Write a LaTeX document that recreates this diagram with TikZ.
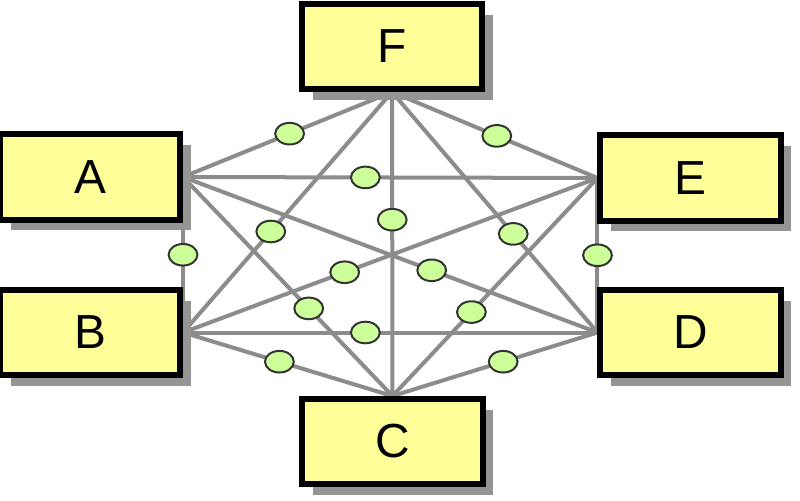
\documentclass[tikz,border=0pt]{standalone}
\usepackage{fontspec}
\setmainfont{Liberation Sans}
\usetikzlibrary{shapes.geometric,shadows}
\pgfdeclarelayer{background}
\pgfsetlayers{background,main}
\definecolor{boxfill}{RGB}{255,255,153}
\definecolor{dotfill}{RGB}{204,255,153}
\definecolor{linkgray}{RGB}{140,140,140}
\tikzset{%
  every box/.style={
    rectangle,
    draw=black,
    line width=0.15cm,
    fill=boxfill,
    minimum width=4.5cm,
    minimum height=2.125cm,
    font=\fontsize{34}{40}\selectfont,
    drop shadow={shadow xshift=0.27cm, shadow yshift=-0.27cm, opacity=1, fill=black!42}
  },
  link/.style={
    draw=linkgray,
    line width=0.1cm
  },
  link dot/.style={
    ellipse,
    draw=black!80,
    line width=0.05cm,
    fill=dotfill,
    minimum width=0.72cm,
    minimum height=0.54cm,
    inner sep=0pt
  },
}

\begin{document}
\begin{tikzpicture}[x=0.025cm, y=-0.025cm]
\useasboundingbox (0,0) rectangle (800,500);
% the six stations
\node[every box] (F) at (392,46.5) {F};
\node[every box] (A) at (90,177) {A};
\node[every box] (B) at (90,332.5) {B};
\node[every box] (E) at (690.5,178) {E};
\node[every box] (D) at (690.5,332.5) {D};
\node[every box] (C) at (392.5,441.5) {C};
% every station linked to every other one
\def\links{A.east/F.south/.51, F.south/E.west/.51, A.east/E.west/.44,
  F.south/C.north/.42, F.south/B.east/.58, F.south/D.west/.59,
  A.east/B.east/.5, E.west/D.west/.5, B.east/E.west/.39,
  A.east/D.west/.60, A.east/C.north/.60, C.north/E.west/.385,
  B.east/D.west/.44, B.east/C.north/.46, C.north/D.west/.54}
\begin{pgfonlayer}{background}
    \foreach \s/\t/\p in \links
        \draw[link] (\s) -- (\t);
    \foreach \s/\t/\p in \links
        \path (\s) -- node[link dot, pos=\p] {} (\t);
\end{pgfonlayer}
\end{tikzpicture}
\end{document}
